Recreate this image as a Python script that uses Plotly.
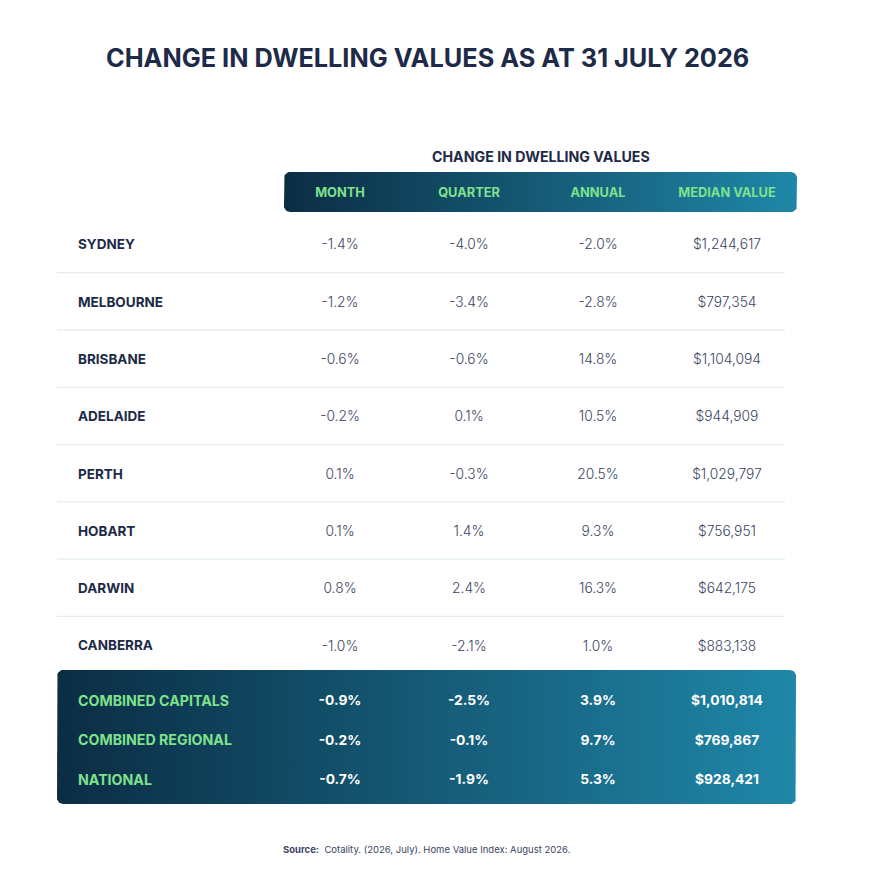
import plotly.graph_objects as go
import math

# ---------------- data ----------------
title_text = "CHANGE IN DWELLING VALUES AS AT 31 JULY 2026"
group_header = "CHANGE IN DWELLING VALUES"
columns = ["MONTH", "QUARTER", "ANNUAL", "MEDIAN VALUE"]

cities = ["SYDNEY", "MELBOURNE", "BRISBANE", "ADELAIDE", "PERTH", "HOBART", "DARWIN", "CANBERRA"]
city_month = [-1.4, -1.2, -0.6, -0.2, 0.1, 0.1, 0.8, -1.0]
city_quarter = [-4.0, -3.4, -0.6, 0.1, -0.3, 1.4, 2.4, -2.1]
city_annual = [-2.0, -2.8, 14.8, 10.5, 20.5, 9.3, 16.3, 1.0]
city_median = [1244617, 797354, 1104094, 944909, 1029797, 756951, 642175, 883138]

summary = ["COMBINED CAPITALS", "COMBINED REGIONAL", "NATIONAL"]
sum_month = [-0.9, -0.2, -0.7]
sum_quarter = [-2.5, -0.1, -1.9]
sum_annual = [3.9, 9.7, 5.3]
sum_median = [1010814, 769867, 928421]

source_bold = "Source:"
source_text = "Cotality. (2026, July). Home Value Index: August 2026."

# ---------------- style ----------------
W, H = 875, 895
OFF = 8  # page body margin compensation
TXT = 2  # vertical nudge for text baseline
FONT = "Inter"
NAVY = "#1d2a48"
VAL = "#3a4562"
GREEN = "#7ee28c"
SEP = "#e2ebf2"
GRAD = [[0, "#0b2d44"], [1, "#1f87a8"]]

COL_X0, COL_DX = 340, 129
ROW_Y0, ROW_DY = 244, 57.3
SUM_Y0, SUM_DY = 700, 39.5
LABEL_X = 78


def pct(v):
    return f"{v:.1f}%"


def money(v):
    return f"${v:,.0f}"


def rounded_rect(x0, y0, x1, y1, r, n=8):
    xs, ys = [], []
    corners = [
        (x1 - r, y0 + r, -90, 0),
        (x1 - r, y1 - r, 0, 90),
        (x0 + r, y1 - r, 90, 180),
        (x0 + r, y0 + r, 180, 270),
    ]
    for cx, cy, a0, a1 in corners:
        for k in range(n + 1):
            a = math.radians(a0 + (a1 - a0) * k / n)
            xs.append(cx + r * math.cos(a))
            ys.append(cy + r * math.sin(a))
    xs.append(xs[0])
    ys.append(ys[0])
    return xs, ys


fig = go.Figure()

# gradient panels
for (x0, y0, x1, y1) in [(284, 172, 797, 212), (57, 670, 796, 804)]:
    xs, ys = rounded_rect(x0, y0, x1, y1, 6)
    fig.add_trace(go.Scatter(
        x=xs, y=ys, mode="lines", fill="toself",
        line=dict(width=0, color="rgba(0,0,0,0)"),
        fillgradient=dict(type="horizontal", colorscale=GRAD),
        hoverinfo="skip", showlegend=False,
    ))

col_x = [COL_X0 + j * COL_DX for j in range(len(columns))]

# column headers
fig.add_trace(go.Scatter(
    x=col_x, y=[192 + TXT] * len(columns), mode="text", text=[f"<b>{c}</b>" for c in columns],
    textfont=dict(family=FONT, size=12.8, color=GREEN),
    textposition="middle center", hoverinfo="skip", showlegend=False,
))

# city rows
row_y = [ROW_Y0 + i * ROW_DY for i in range(len(cities))]
row_ty = [y + TXT for y in row_y]
fig.add_trace(go.Scatter(
    x=[LABEL_X] * len(cities), y=row_ty, mode="text", text=[f"<b>{c}</b>" for c in cities],
    textfont=dict(family=FONT, size=13.5, color=NAVY, weight=800),
    textposition="middle right", hoverinfo="skip", showlegend=False,
))
city_cols = [
    [pct(v) for v in city_month],
    [pct(v) for v in city_quarter],
    [pct(v) for v in city_annual],
    [money(v) for v in city_median],
]
for j, vals in enumerate(city_cols):
    fig.add_trace(go.Scatter(
        x=[col_x[j]] * len(vals), y=row_ty, mode="text", text=vals,
        textfont=dict(family=FONT, size=13.8, color=VAL, weight=300),
        textposition="middle center", hoverinfo="skip", showlegend=False,
    ))

# separators
for i in range(len(cities) - 1):
    yy = (row_y[i] + row_y[i + 1]) / 2
    fig.add_shape(type="line", x0=57, x1=785, y0=yy, y1=yy, xref="x", yref="y",
                  line=dict(color=SEP, width=1.2))

# summary rows
sum_y = [SUM_Y0 + i * SUM_DY + TXT for i in range(len(summary))]
fig.add_trace(go.Scatter(
    x=[LABEL_X] * len(summary), y=sum_y, mode="text", text=[f"<b>{c}</b>" for c in summary],
    textfont=dict(family=FONT, size=14.2, color=GREEN),
    textposition="middle right", hoverinfo="skip", showlegend=False,
))
sum_cols = [
    [pct(v) for v in sum_month],
    [pct(v) for v in sum_quarter],
    [pct(v) for v in sum_annual],
    [money(v) for v in sum_median],
]
for j, vals in enumerate(sum_cols):
    fig.add_trace(go.Scatter(
        x=[col_x[j]] * len(vals), y=sum_y, mode="text", text=[f"<b>{v}</b>" for v in vals],
        textfont=dict(family=FONT, size=13.8, color="white"),
        textposition="middle center", hoverinfo="skip", showlegend=False,
    ))

# titles
fig.add_annotation(x=427, y=57, xref="x", yref="y", text=f"<b>{title_text}</b>",
                   showarrow=False, font=dict(family=FONT, size=25.3, color=NAVY, weight=800))
fig.add_annotation(x=541, y=156, xref="x", yref="y", text=f"<b>{group_header}</b>",
                   showarrow=False, font=dict(family=FONT, size=14.2, color=NAVY))
fig.add_annotation(x=426, y=849, xref="x", yref="y",
                   text=f"<b>{source_bold}</b>  {source_text}",
                   showarrow=False, font=dict(family=FONT, size=9.5, color=VAL))

fig.update_layout(
    width=W, height=H,
    margin=dict(l=0, r=0, t=0, b=0),
    paper_bgcolor="white", plot_bgcolor="white",
    xaxis=dict(range=[OFF, W + OFF], visible=False, fixedrange=True),
    yaxis=dict(range=[H + OFF, OFF], visible=False, fixedrange=True),
    showlegend=False,
)

fig.write_html("out.html")
